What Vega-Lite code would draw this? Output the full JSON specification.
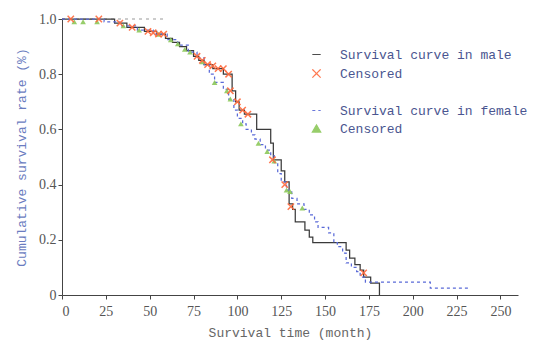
{
  "$schema": "https://vega.github.io/schema/vega-lite/v6.json",
  "width": 456,
  "height": 276,
  "autosize": "none",
  "padding": {"left": 62, "top": 19, "right": 19, "bottom": 45},
  "background": "white",
  "view": {"stroke": null},
  "config": {
    "font": "Liberation Mono",
    "axis": {"grid": false, "domainColor": "#444", "tickColor": "#444", "tickSize": 4, "labelFont": "Liberation Serif", "labelFontSize": 14, "labelColor": "#555", "titleFont": "Liberation Mono", "titleFontSize": 13, "titleFontWeight": "normal"},
    "legend": {"orient": "none", "legendX": 248, "legendY": 29, "padding": 0, "labelFont": "Liberation Mono", "labelFontSize": 13, "labelColor": "#4a5590", "labelOffset": 17, "labelLimit": 400, "rowPadding": 4, "symbolSize": 70, "symbolStrokeWidth": 1.2}
  },
  "datasets": {
    "curves": [
      {"time": 0, "surv": 1.0, "series": "male"}, {"time": 30, "surv": 0.985, "series": "male"}, {"time": 37, "surv": 0.97, "series": "male"}, {"time": 47, "surv": 0.955, "series": "male"}, {"time": 54, "surv": 0.945, "series": "male"}, {"time": 59, "surv": 0.93, "series": "male"}, {"time": 63, "surv": 0.915, "series": "male"}, {"time": 67, "surv": 0.9, "series": "male"}, {"time": 71, "surv": 0.885, "series": "male"}, {"time": 75, "surv": 0.865, "series": "male"}, {"time": 78, "surv": 0.85, "series": "male"}, {"time": 81, "surv": 0.835, "series": "male"}, {"time": 86, "surv": 0.82, "series": "male"}, {"time": 92, "surv": 0.8, "series": "male"}, {"time": 97, "surv": 0.74, "series": "male"}, {"time": 99, "surv": 0.7, "series": "male"}, {"time": 101, "surv": 0.67, "series": "male"}, {"time": 104, "surv": 0.655, "series": "male"}, {"time": 111, "surv": 0.6, "series": "male"}, {"time": 119, "surv": 0.55, "series": "male"}, {"time": 120.5, "surv": 0.49, "series": "male"}, {"time": 125, "surv": 0.45, "series": "male"}, {"time": 127, "surv": 0.41, "series": "male"}, {"time": 129.5, "surv": 0.33, "series": "male"}, {"time": 131.5, "surv": 0.31, "series": "male"}, {"time": 133, "surv": 0.265, "series": "male"}, {"time": 138.5, "surv": 0.235, "series": "male"}, {"time": 141, "surv": 0.21, "series": "male"}, {"time": 143, "surv": 0.19, "series": "male"}, {"time": 162, "surv": 0.163, "series": "male"}, {"time": 164, "surv": 0.134, "series": "male"}, {"time": 167, "surv": 0.11, "series": "male"}, {"time": 170, "surv": 0.09, "series": "male"}, {"time": 172, "surv": 0.065, "series": "male"}, {"time": 176, "surv": 0.043, "series": "male"}, {"time": 181, "surv": 0.0, "series": "male"},
      {"time": 0, "surv": 1.0, "series": "female"}, {"time": 24, "surv": 0.99, "series": "female"}, {"time": 33, "surv": 0.975, "series": "female"}, {"time": 43, "surv": 0.96, "series": "female"}, {"time": 52, "surv": 0.945, "series": "female"}, {"time": 60, "surv": 0.925, "series": "female"}, {"time": 66, "surv": 0.905, "series": "female"}, {"time": 72, "surv": 0.88, "series": "female"}, {"time": 77, "surv": 0.86, "series": "female"}, {"time": 81, "surv": 0.835, "series": "female"}, {"time": 84, "surv": 0.8, "series": "female"}, {"time": 87, "surv": 0.77, "series": "female"}, {"time": 92, "surv": 0.745, "series": "female"}, {"time": 95, "surv": 0.71, "series": "female"}, {"time": 98, "surv": 0.67, "series": "female"}, {"time": 100, "surv": 0.64, "series": "female"}, {"time": 103, "surv": 0.62, "series": "female"}, {"time": 105, "surv": 0.6, "series": "female"}, {"time": 108, "surv": 0.58, "series": "female"}, {"time": 110, "surv": 0.565, "series": "female"}, {"time": 113, "surv": 0.545, "series": "female"}, {"time": 116, "surv": 0.525, "series": "female"}, {"time": 119, "surv": 0.505, "series": "female"}, {"time": 121, "surv": 0.48, "series": "female"}, {"time": 123, "surv": 0.44, "series": "female"}, {"time": 125, "surv": 0.41, "series": "female"}, {"time": 128, "surv": 0.38, "series": "female"}, {"time": 131, "surv": 0.35, "series": "female"}, {"time": 134, "surv": 0.33, "series": "female"}, {"time": 138, "surv": 0.31, "series": "female"}, {"time": 141, "surv": 0.29, "series": "female"}, {"time": 144, "surv": 0.265, "series": "female"}, {"time": 146, "surv": 0.245, "series": "female"}, {"time": 152, "surv": 0.225, "series": "female"}, {"time": 155, "surv": 0.19, "series": "female"}, {"time": 157, "surv": 0.175, "series": "female"}, {"time": 160, "surv": 0.152, "series": "female"}, {"time": 162, "surv": 0.116, "series": "female"}, {"time": 165, "surv": 0.1, "series": "female"}, {"time": 168, "surv": 0.085, "series": "female"}, {"time": 170, "surv": 0.065, "series": "female"}, {"time": 173, "surv": 0.047, "series": "female"}, {"time": 210, "surv": 0.025, "series": "female"}, {"time": 233, "surv": 0.025, "series": "female"}
    ],
    "censored": [
      {"time": 5, "surv": 1.0, "series": "male_c"}, {"time": 21, "surv": 1.0, "series": "male_c"}, {"time": 33, "surv": 0.985, "series": "male_c"}, {"time": 40, "surv": 0.97, "series": "male_c"}, {"time": 49, "surv": 0.955, "series": "male_c"}, {"time": 52, "surv": 0.95, "series": "male_c"}, {"time": 55, "surv": 0.945, "series": "male_c"}, {"time": 58, "surv": 0.945, "series": "male_c"}, {"time": 77, "surv": 0.865, "series": "male_c"}, {"time": 80, "surv": 0.85, "series": "male_c"}, {"time": 83, "surv": 0.835, "series": "male_c"}, {"time": 86, "surv": 0.83, "series": "male_c"}, {"time": 89, "surv": 0.82, "series": "male_c"}, {"time": 92, "surv": 0.82, "series": "male_c"}, {"time": 95, "surv": 0.8, "series": "male_c"}, {"time": 96, "surv": 0.74, "series": "male_c"}, {"time": 100, "surv": 0.7, "series": "male_c"}, {"time": 103, "surv": 0.67, "series": "male_c"}, {"time": 106, "surv": 0.655, "series": "male_c"}, {"time": 120, "surv": 0.49, "series": "male_c"}, {"time": 127, "surv": 0.4, "series": "male_c"}, {"time": 130.5, "surv": 0.32, "series": "male_c"}, {"time": 172, "surv": 0.08, "series": "male_c"},
      {"time": 7, "surv": 0.99, "series": "female_c"}, {"time": 12, "surv": 0.99, "series": "female_c"}, {"time": 20, "surv": 0.99, "series": "female_c"}, {"time": 35, "surv": 0.975, "series": "female_c"}, {"time": 44, "surv": 0.96, "series": "female_c"}, {"time": 55, "surv": 0.945, "series": "female_c"}, {"time": 62, "surv": 0.925, "series": "female_c"}, {"time": 66, "surv": 0.91, "series": "female_c"}, {"time": 70, "surv": 0.89, "series": "female_c"}, {"time": 73, "surv": 0.88, "series": "female_c"}, {"time": 80, "surv": 0.845, "series": "female_c"}, {"time": 87, "surv": 0.77, "series": "female_c"}, {"time": 94, "surv": 0.74, "series": "female_c"}, {"time": 96, "surv": 0.71, "series": "female_c"}, {"time": 102, "surv": 0.62, "series": "female_c"}, {"time": 112, "surv": 0.55, "series": "female_c"}, {"time": 117, "surv": 0.52, "series": "female_c"}, {"time": 121, "surv": 0.485, "series": "female_c"}, {"time": 128, "surv": 0.38, "series": "female_c"}, {"time": 130, "surv": 0.375, "series": "female_c"}, {"time": 137, "surv": 0.315, "series": "female_c"}
    ],
    "ref": [{"time": 0, "surv": 1.0}, {"time": 58, "surv": 1.0}]
  },
  "layer": [
    {
      "data": {"name": "ref"},
      "mark": {"type": "line", "color": "#999", "strokeDash": [3, 4], "strokeWidth": 1},
      "encoding": {
        "x": {"field": "time", "type": "quantitative"},
        "y": {"field": "surv", "type": "quantitative"}
      }
    },
    {
      "data": {"name": "curves"},
      "mark": {"type": "line", "interpolate": "step-after", "strokeWidth": 1.25},
      "encoding": {
        "x": {"field": "time", "type": "quantitative"},
        "y": {"field": "surv", "type": "quantitative"},
        "color": {"field": "series", "type": "nominal", "title": null, "legend": {"labelExpr": "datum.value == 'male' ? 'Survival curve in male' : datum.value == 'female' ? 'Survival curve in female' : datum.value == 'gap' ? '' : 'Censored'"}},
        "strokeDash": {"field": "series", "type": "nominal", "title": null,
          "scale": {"domain": ["male", "male_c", "gap", "female", "female_c"], "range": [[1, 0], [1, 0], [1, 0], [3, 3], [1, 0]]},
          "legend": {"labelExpr": "datum.value == 'male' ? 'Survival curve in male' : datum.value == 'female' ? 'Survival curve in female' : datum.value == 'gap' ? '' : 'Censored'"}}
      }
    },
    {
      "data": {"name": "censored"},
      "transform": [{"filter": "datum.series == 'female_c'"}],
      "mark": {"type": "point", "filled": true, "size": 32, "opacity": 0.9},
      "encoding": {
        "x": {"field": "time", "type": "quantitative"},
        "y": {"field": "surv", "type": "quantitative"},
        "color": {"field": "series", "type": "nominal", "title": null, "legend": {"labelExpr": "datum.value == 'male' ? 'Survival curve in male' : datum.value == 'female' ? 'Survival curve in female' : datum.value == 'gap' ? '' : 'Censored'"}},
        "shape": {
          "field": "series", "type": "nominal", "title": null,
          "scale": {"domain": ["male", "male_c", "gap", "female", "female_c"], "range": ["stroke", "M-1,-1L1,1M1,-1L-1,1", "circle", "stroke", "triangle-up"]},
          "legend": {"labelExpr": "datum.value == 'male' ? 'Survival curve in male' : datum.value == 'female' ? 'Survival curve in female' : datum.value == 'gap' ? '' : 'Censored'"}
        }
      }
    },
    {
      "data": {"name": "censored"},
      "transform": [{"filter": "datum.series == 'male_c'"}],
      "mark": {"type": "point", "filled": false, "size": 40, "strokeWidth": 1.5, "opacity": 0.9},
      "encoding": {
        "x": {"field": "time", "type": "quantitative", "scale": {"domain": [0, 250]}, "axis": {"values": [0, 25, 50, 75, 100, 125, 150, 175, 200, 225, 250], "title": "Survival time (month)", "titleColor": "#666", "titlePadding": 8, "labelPadding": 5}},
        "y": {"field": "surv", "type": "quantitative", "scale": {"domain": [0, 1]}, "axis": {"values": [0, 0.1, 0.2, 0.3, 0.4, 0.5, 0.6, 0.7, 0.8, 0.9, 1.0], "labelExpr": "datum.value == 0 ? '0' : format(datum.value, '.1f')", "title": "Cumulative survival rate (%)", "titleColor": "#6a7cc0", "titlePadding": 10}},
        "color": {
          "field": "series", "type": "nominal", "title": null,
          "scale": {"domain": ["male", "male_c", "gap", "female", "female_c"], "range": ["#3a3a3a", "#ff6a3d", "#ffffff", "#5a6ad8", "#8cc85a"]},
          "legend": {"labelExpr": "datum.value == 'male' ? 'Survival curve in male' : datum.value == 'female' ? 'Survival curve in female' : datum.value == 'gap' ? '' : 'Censored'"}
        },
        "shape": {
          "field": "series", "type": "nominal", "title": null,
          "scale": {"domain": ["male", "male_c", "gap", "female", "female_c"], "range": ["stroke", "M-1,-1L1,1M1,-1L-1,1", "circle", "stroke", "triangle-up"]},
          "legend": {"labelExpr": "datum.value == 'male' ? 'Survival curve in male' : datum.value == 'female' ? 'Survival curve in female' : datum.value == 'gap' ? '' : 'Censored'"}
        }
      }
    }
  ]
}
